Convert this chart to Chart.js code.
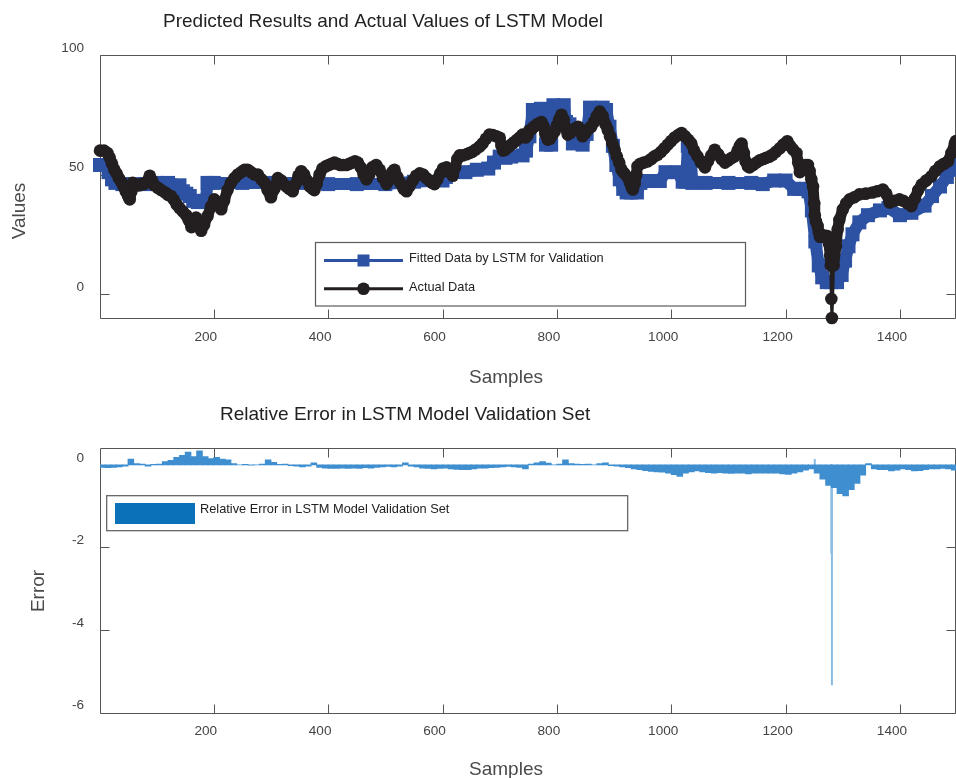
<!DOCTYPE html>
<html>
<head>
<meta charset="utf-8">
<script src="https://cdn.jsdelivr.net/npm/chart.js@4.4.1/dist/chart.umd.min.js"></script>
<style>
  html, body { margin: 0; padding: 0; background: #fff; overflow: hidden; }
  #wrap { position: relative; width: 956px; height: 778px; }
  #topChart { position: absolute; left: 0; top: 0; }
  #errChart { position: absolute; left: 0; top: 390px; }
</style>
</head>
<body>
<div id="wrap">
  <canvas id="topChart" width="956" height="390"></canvas>
  <canvas id="errChart" width="956" height="388"></canvas>
</div>
<script>
// ---------- tick labels ----------
const xTickValues = [200, 400, 600, 800, 1000, 1200, 1400];
const topYTicks = [0, 50, 100];
const errYTicks = [-6, -4, -2, 0];

// ---------- actual series (sample index, value) ----------
const actualSamples = [1, 8, 14, 18, 22, 26, 30, 34, 38, 42, 46, 50, 53, 56, 58, 62, 66, 70, 73, 78,
  83, 88, 92, 96, 102, 108, 115, 120, 125, 130, 135, 140, 146, 152, 156, 161, 165, 169, 173, 178,
  183, 189, 195, 201, 207, 213, 218, 224, 230, 236, 242, 248, 254, 259, 265, 271, 277, 283, 289, 294,
  300, 306, 312, 318, 322, 327, 332, 338, 343, 348, 353, 358, 363, 368, 373, 376, 380, 385, 390, 396,
  401, 406, 411, 416, 421, 426, 432, 437, 442, 447, 452, 457, 462, 467, 472, 477, 484, 490, 496, 502,
  508, 512, 516, 521, 526, 532, 537, 542, 548, 554, 560, 566, 572, 577, 582, 586, 591, 596, 601, 607,
  612, 618, 622, 626, 630, 636, 642, 647, 652, 658, 665, 670, 676, 682, 688, 694, 700, 703, 706, 710,
  715, 720, 725, 730, 735, 740, 745, 749, 752, 756, 760, 765, 770, 773, 777, 780, 784, 788, 792, 796,
  800, 804, 808, 812, 816, 819, 824, 830, 837, 842, 845, 850, 855, 860, 865, 870, 875, 880, 885, 889,
  893, 897, 901, 905, 909, 913, 918, 924, 928, 931, 933, 936, 939, 941, 946, 952, 959, 965, 970, 976,
  982, 988, 994, 1000, 1006, 1012, 1018, 1024, 1030, 1035, 1040, 1046, 1052, 1059, 1064, 1070, 1076, 1082, 1088, 1094,
  1100, 1106, 1111, 1116, 1120, 1123, 1127, 1130, 1134, 1137, 1143, 1149, 1155, 1161, 1166, 1172, 1177, 1183, 1190, 1196,
  1203, 1208, 1213, 1219, 1222, 1225, 1230, 1235, 1239, 1242, 1245, 1248, 1250, 1251, 1253, 1256, 1258, 1260, 1264, 1268,
  1273, 1276, 1278, 1279, 1280, 1281, 1284, 1288, 1291, 1294, 1300, 1306, 1312, 1320, 1329, 1340, 1352, 1360, 1370, 1376,
  1382, 1390, 1399, 1406, 1413, 1420, 1426, 1432, 1438, 1446, 1455, 1462, 1470, 1477, 1484, 1490, 1496, 1498];
const actualValues = [60, 60, 59, 57, 54.5, 52, 50.5, 48.5, 47, 45, 43, 41, 39.6, 43, 46.5, 46, 45.5, 45.5, 46, 46,
  47, 49.5, 47.5, 45.5, 44.5, 43.5, 42.5, 41.5, 41, 39.5, 37.5, 36, 34.5, 33, 31, 28, 30, 32, 29, 26.5,
  29, 32.6, 36.5, 39.6, 38, 35.5, 39, 43.5, 46.5, 48.5, 50, 51, 52, 52, 51, 50, 50, 48, 46.5, 43.5,
  40.5, 44, 48.5, 47.5, 46, 45, 44, 43, 46, 49.5, 51.4, 50, 47.5, 45, 44, 43.5, 46, 50, 52.5, 53.5,
  54, 54.5, 55, 54.5, 54, 54, 54, 54.5, 55, 55.5, 55, 53, 50, 48, 50, 53, 54, 52, 48.5, 46,
  48, 51, 52, 49, 46.5, 44, 43, 45, 47.5, 49.5, 50.5, 50, 48.5, 47.5, 46.5, 46, 48, 50.5, 52.5, 53,
  51, 49.5, 53, 56.5, 58, 58, 58.5, 59, 59.5, 60.5, 61.7, 63, 65, 66.7, 66.5, 66, 65.4, 62, 60, 60.5,
  61.5, 62.5, 63.5, 64.5, 65.5, 66.7, 65.5, 66.5, 68.5, 69, 70, 71, 71.5, 72, 70, 67, 64.6, 65, 66.5, 68,
  70.5, 73, 75, 73, 69, 66.7, 67.5, 69, 70, 68, 66, 67.5, 69, 70, 72, 74.5, 76.4, 74.5, 71, 68.75,
  66, 63, 60.4, 57.5, 55, 52, 50.5, 48.75, 46.5, 44.5, 43.75, 46, 50, 53.5, 54.5, 55, 55.5, 56.5, 57.5, 58.3,
  59.5, 61, 62.5, 64, 65.5, 66.5, 67.4, 66, 64.5, 63, 60, 57.6, 55, 53, 55.5, 58, 60.4, 58.5, 56.5, 55,
  56, 57, 57.6, 60, 62, 63, 59, 55.5, 53.5, 53, 54, 55, 56, 56.5, 57, 57.5, 58.3, 59.5, 61, 62.5,
  63.9, 62, 60.5, 59, 55, 51, 52.5, 54, 54, 51.5, 48, 45, 38, 33, 30.5, 28.5, 26, 24, 24, 24.5,
  24.3, 21, 16, 12, -2, -10, 12, 20, 27, 31, 35.4, 38, 39.6, 40.5, 41.7, 42, 42.5, 43, 43.75, 42,
  38.3, 39, 39.6, 39, 38, 36.8, 40, 43.5, 45.8, 47.5, 49.3, 51.5, 53.5, 54.5, 55.5, 59, 63, 64];

// ---------- LSTM fitted series (sample index, value) ----------
const fittedSamples = [1, 10, 16, 22, 28, 40, 60, 80, 100, 120, 140, 146, 152, 158, 164, 172, 180, 186, 189, 200,
  250, 300, 350, 400, 450, 500, 550, 600, 606, 612, 640, 660, 680, 690, 700, 710, 720, 740, 746, 752,
  758, 772, 778, 781, 790, 794, 812, 816, 822, 828, 836, 845, 852, 858, 880, 886, 892, 898, 904, 910,
  916, 922, 930, 940, 946, 960, 980, 990, 1012, 1020, 1026, 1029, 1033, 1037, 1060, 1100, 1140, 1160, 1180, 1200,
  1215, 1225, 1235, 1240, 1246, 1252, 1258, 1264, 1272, 1280, 1290, 1298, 1304, 1310, 1317, 1329, 1344, 1365, 1380, 1400,
  1420, 1443, 1456, 1470, 1482, 1490, 1498];
const fittedValues = [54, 54, 51, 48, 46.5, 46, 46, 46, 46.5, 46.5, 45.5, 43, 42, 41, 39, 38.5, 38.5, 39, 46.5, 46.5,
  46.5, 46.5, 46.5, 46, 46, 46, 47, 47.5, 49, 50.5, 51, 52, 52.5, 55, 57.5, 57, 57.5, 58, 60, 66,
  77, 77.5, 76, 62.5, 62.5, 79, 79, 72, 71, 63, 66, 62.5, 67, 78, 78, 77, 70, 62, 54, 48,
  44, 42.5, 42.5, 42.5, 46.5, 47.3, 47.3, 51, 51, 47, 47, 62, 60, 46.5, 46.5, 46.5, 46.5, 46, 47.5, 47.5,
  44, 44, 44, 43, 35, 22, 12, 7, 5, 5, 5, 8, 14, 20, 25, 30, 33, 35, 36, 33,
  34, 37, 41, 45, 49, 52, 55];

// ---------- relative error (sample index, value) ----------
const errSamples = [5, 15, 25, 35, 45, 55, 65, 75, 85, 95, 105, 115, 125, 135, 145, 155, 165, 175, 185, 195,
  205, 215, 225, 235, 245, 255, 265, 275, 285, 295, 305, 315, 325, 335, 345, 355, 365, 375, 385, 395,
  405, 415, 425, 435, 445, 455, 465, 475, 485, 495, 505, 515, 525, 535, 545, 555, 565, 575, 585, 595,
  605, 615, 625, 635, 645, 655, 665, 675, 685, 695, 705, 715, 725, 735, 745, 755, 765, 775, 785, 795,
  805, 815, 825, 835, 845, 855, 865, 875, 885, 895, 905, 915, 925, 935, 945, 955, 965, 975, 985, 995,
  1005, 1015, 1025, 1035, 1045, 1055, 1065, 1075, 1085, 1095, 1105, 1115, 1125, 1135, 1145, 1155, 1165, 1175, 1185, 1195,
  1205, 1215, 1225, 1235, 1245, 1255, 1265, 1275, 1285, 1295, 1305, 1315, 1325, 1335, 1345, 1355, 1365, 1375, 1385, 1395,
  1405, 1415, 1425, 1435, 1445, 1455, 1465, 1475, 1485, 1495];
const errValues = [-0.06, -0.07, -0.06, -0.05, -0.03, 0.14, 0.03, 0.02, -0.03, 0.01, 0.02, 0.08, 0.11, 0.18, 0.23, 0.31, 0.2, 0.34, 0.2, 0.15,
  0.18, 0.14, 0.12, 0.03, 0.0, 0.01, -0.01, 0.0, 0.02, 0.12, 0.06, 0.01, 0.02, -0.02, -0.03, -0.05, -0.03, 0.05, -0.06, -0.08,
  -0.09, -0.09, -0.08, -0.09, -0.08, -0.09, -0.07, -0.08, -0.06, -0.05, -0.04, -0.05, -0.03, 0.05, -0.03, -0.05, -0.08, -0.09, -0.1, -0.09,
  -0.08, -0.1, -0.11, -0.12, -0.12, -0.1, -0.08, -0.08, -0.07, -0.06, -0.05, -0.04, -0.05, -0.06, -0.1, 0.02, 0.05, 0.08, 0.04, 0.0,
  0.02, 0.12, 0.03, 0.02, 0.01, 0.02, 0.0, 0.03, 0.05, -0.02, -0.03, -0.05, -0.07, -0.1, -0.12, -0.14, -0.16, -0.17, -0.18, -0.2,
  -0.24, -0.28, -0.2, -0.17, -0.15, -0.17, -0.19, -0.2, -0.19, -0.2, -0.21, -0.2, -0.2, -0.22, -0.2, -0.2, -0.2, -0.2, -0.2, -0.22,
  -0.23, -0.2, -0.17, -0.13, -0.1, -0.2, -0.35, -0.5, -0.55, -0.7, -0.75, -0.6, -0.45, -0.25, 0.03, -0.1, -0.12, -0.12, -0.15, -0.13,
  -0.1, -0.12, -0.15, -0.14, -0.12, -0.1, -0.1, -0.09, -0.1, -0.13];
// isolated single-sample errors
const spikeSamples = [1251, 1280, 1281];
const spikeValues = [0.13, -2.14, -5.33];

// ---------- styling ----------
const FONT = "'Liberation Sans', Arial, Helvetica, sans-serif";
const BLACK = '#231f20';
const BLUE = '#2d51a3';
const BAR = '#3f8fd0';
const AXIS = '#555555';
const X_MIN = 1, X_MAX = 1498;

const toPoints = (xs, ys) => xs.map((x, i) => ({ x: x, y: ys[i] }));

// box around the plot area with inward ticks on all four sides
const boxFrame = {
  id: 'boxFrame',
  beforeDatasetsDraw(chart) {
    const { ctx, chartArea: a, scales: { x, y } } = chart;
    const L = Math.round(a.left) + 0.5, R = Math.round(a.right) - 0.5;
    const T = Math.round(a.top) + 0.5, B = Math.round(a.bottom) + 0.5;
    const tl = 9;
    ctx.save();
    ctx.strokeStyle = AXIS;
    ctx.lineWidth = 1;
    ctx.beginPath();
    ctx.rect(L, T, R - L, B - T);
    x.ticks.forEach(t => {
      const px = Math.round(x.getPixelForValue(t.value)) + 0.5;
      ctx.moveTo(px, B); ctx.lineTo(px, B - tl);
      ctx.moveTo(px, T); ctx.lineTo(px, T + tl);
    });
    y.ticks.forEach(t => {
      const py = Math.round(y.getPixelForValue(t.value)) + 0.5;
      ctx.moveTo(L, py); ctx.lineTo(L + tl, py);
      ctx.moveTo(R, py); ctx.lineTo(R - tl, py);
    });
    ctx.stroke();
    ctx.restore();
  }
};

// titles, axis names and the boxed legend of each panel
const panelText = {
  id: 'panelText',
  afterDraw(chart, args, o) {
    const { ctx } = chart;
    ctx.save();
    ctx.fillStyle = '#222';
    ctx.font = '19px ' + FONT;
    ctx.textAlign = 'left';
    ctx.textBaseline = 'alphabetic';
    ctx.fillText(o.title, o.titleX, o.titleY);

    ctx.fillStyle = '#4a4a4a';
    ctx.textAlign = 'center';
    ctx.fillText(o.xName, o.xNameX, o.xNameY);
    ctx.save();
    ctx.translate(o.yNameX, o.yNameY);
    ctx.rotate(-Math.PI / 2);
    ctx.fillText(o.yName, 0, 0);
    ctx.restore();

    const lg = o.legend;
    ctx.fillStyle = '#fff';
    ctx.fillRect(lg.x, lg.y, lg.w, lg.h);
    ctx.strokeStyle = '#5a5a5a';
    ctx.lineWidth = 1.2;
    ctx.strokeRect(lg.x, lg.y, lg.w, lg.h);
    ctx.font = '12.8px ' + FONT;
    ctx.textAlign = 'left';
    lg.items.forEach(it => {
      if (it.kind === 'patch') {
        ctx.fillStyle = it.color;
        ctx.fillRect(it.x0, it.y - 10.5, it.x1 - it.x0, 21);
      } else {
        ctx.strokeStyle = it.color;
        ctx.lineWidth = 3;
        ctx.beginPath();
        ctx.moveTo(it.x0, it.y); ctx.lineTo(it.x1, it.y);
        ctx.stroke();
        ctx.fillStyle = it.color;
        const cx = (it.x0 + it.x1) / 2;
        if (it.kind === 'square') {
          ctx.fillRect(cx - 6, it.y - 6, 12, 12);
        } else {
          ctx.beginPath();
          ctx.arc(cx, it.y, 6.3, 0, Math.PI * 2);
          ctx.fill();
        }
      }
      ctx.fillStyle = '#222';
      ctx.fillText(it.text, it.tx, it.ty);
    });
    ctx.restore();
  }
};

const tickFont = { family: FONT, size: 13.6 };
const fixedTicks = list => s => { s.ticks = list.map(v => ({ value: v })); };

// the dense marker band of the actual series; the two isolated low samples keep a thin connector
const actualSegmentWidth = c => (c.p0.parsed.y < 5 || c.p1.parsed.y < 5) ? 3 : 11;

// ---------- upper panel: actual vs fitted ----------
new Chart(document.getElementById('topChart'), {
  type: 'line',
  data: {
    datasets: [
      {
        label: 'Actual Data',
        data: toPoints(actualSamples, actualValues),
        borderColor: BLACK, backgroundColor: BLACK,
        borderWidth: 11, borderJoinStyle: 'round', borderCapStyle: 'round', tension: 0,
        segment: { borderWidth: actualSegmentWidth },
        pointStyle: 'circle', pointRadius: 6.3, pointBorderWidth: 0,
        pointBackgroundColor: BLACK, clip: false, order: 0
      },
      {
        label: 'Fitted Data by LSTM for Validation',
        data: toPoints(fittedSamples, fittedValues),
        borderColor: BLUE, backgroundColor: BLUE,
        borderWidth: 12, borderJoinStyle: 'bevel', tension: 0,
        pointStyle: 'rect', pointRadius: 9.9, pointBorderWidth: 0,
        pointBackgroundColor: BLUE, clip: false, order: 1
      }
    ]
  },
  options: {
    responsive: false, animation: false, events: [],
    layout: { autoPadding: false, padding: { top: 55, left: 0, right: 0, bottom: 0 } },
    plugins: {
      legend: { display: false }, tooltip: { enabled: false },
      panelText: {
        title: 'Predicted Results and Actual Values of LSTM Model', titleX: 163, titleY: 27,
        xName: 'Samples', xNameX: 506, xNameY: 383,
        yName: 'Values', yNameX: 25, yNameY: 211,
        legend: {
          x: 315.5, y: 242.5, w: 430, h: 63.5,
          items: [
            { kind: 'square', color: BLUE, x0: 324, x1: 403, y: 260.5, text: 'Fitted Data by LSTM for Validation', tx: 409, ty: 262.3 },
            { kind: 'circle', color: BLACK, x0: 324, x1: 403, y: 288.7, text: 'Actual Data', tx: 409, ty: 290.6 }
          ]
        }
      }
    },
    scales: {
      x: {
        type: 'linear', min: X_MIN, max: X_MAX,
        afterBuildTicks: fixedTicks(xTickValues),
        afterFit: s => { s.height = 72; },
        grid: { display: false, drawTicks: false }, border: { display: false },
        ticks: { font: tickFont, color: '#444', padding: 11, labelOffset: -8, maxRotation: 0, autoSkip: false, callback: v => String(v) }
      },
      y: {
        type: 'linear', min: -10, max: 100,
        afterBuildTicks: fixedTicks(topYTicks),
        afterFit: s => { s.width = 100; },
        grid: { display: false, drawTicks: false }, border: { display: false },
        ticks: { font: tickFont, color: '#444', padding: 16, labelOffset: -7, callback: v => String(v) }
      }
    }
  },
  plugins: [boxFrame, panelText]
});

// ---------- lower panel: relative error ----------
new Chart(document.getElementById('errChart'), {
  type: 'bar',
  data: {
    datasets: [
      {
        label: 'Relative Error in LSTM Model Validation Set',
        data: toPoints(errSamples, errValues),
        backgroundColor: BAR, borderWidth: 0, barThickness: 5.9, grouped: false
      },
      {
        label: 'Relative Error in LSTM Model Validation Set',
        data: toPoints(spikeSamples, spikeValues),
        backgroundColor: '#86bbe3', borderWidth: 0, barThickness: 1.3, grouped: false
      }
    ]
  },
  options: {
    responsive: false, animation: false, events: [],
    layout: { autoPadding: false, padding: { top: 58.3, left: 0, right: 0, bottom: 0 } },
    plugins: {
      legend: { display: false }, tooltip: { enabled: false },
      panelText: {
        title: 'Relative Error in LSTM Model Validation Set', titleX: 220, titleY: 30,
        xName: 'Samples', xNameX: 506, xNameY: 385,
        yName: 'Error', yNameX: 44, yNameY: 201,
        legend: {
          x: 106.7, y: 105.7, w: 521, h: 35,
          items: [
            { kind: 'patch', color: '#0b72ba', x0: 115, x1: 195, y: 123.5, text: 'Relative Error in LSTM Model Validation Set', tx: 200, ty: 122.9 }
          ]
        }
      }
    },
    scales: {
      x: {
        type: 'linear', min: X_MIN, max: X_MAX, offset: false,
        afterBuildTicks: fixedTicks(xTickValues),
        afterFit: s => { s.height = 65.3; },
        grid: { display: false, drawTicks: false }, border: { display: false },
        ticks: { font: tickFont, color: '#444', padding: 10, labelOffset: -8, maxRotation: 0, autoSkip: false, callback: v => String(v) }
      },
      y: {
        type: 'linear', min: -6, max: 0.4,
        afterBuildTicks: fixedTicks(errYTicks),
        afterFit: s => { s.width = 100; },
        grid: { display: false, drawTicks: false }, border: { display: false },
        ticks: { font: tickFont, color: '#444', padding: 16, labelOffset: -7, callback: v => String(v) }
      }
    }
  },
  plugins: [boxFrame, panelText]
});
</script>
</body>
</html>
